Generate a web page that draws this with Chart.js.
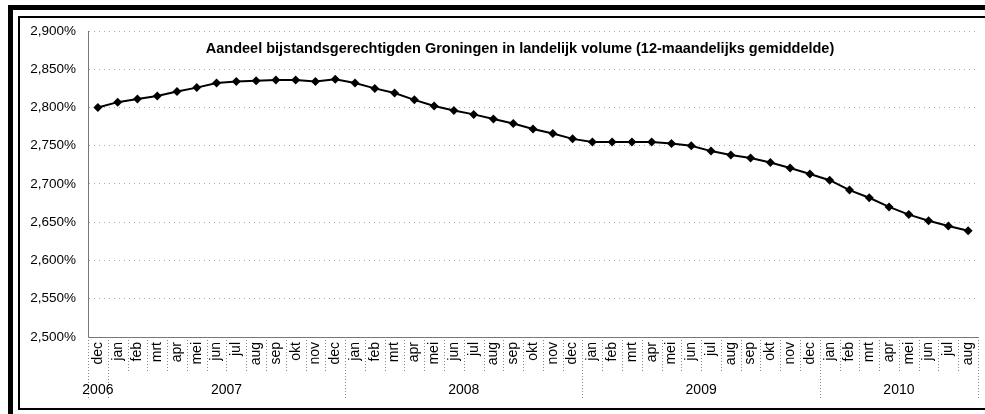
<!DOCTYPE html>
<html>
<head>
<meta charset="utf-8">
<script src="https://cdn.jsdelivr.net/npm/chart.js@4/dist/chart.umd.min.js"></script>
<style>
  html, body { margin: 0; padding: 0; background: #fff; overflow: hidden; width: 985px; height: 414px; }
  .outer { position: absolute; left: 8px; top: 5px; width: 1000px; height: 420px; border-top: 5px solid #000; border-left: 5px solid #000; }
  .inner { position: absolute; left: 18px; top: 16px; width: 1000px; height: 390px; border-top: 2px solid #000; border-left: 2px solid #000; border-bottom: 2px solid #000; }
  canvas { position: absolute; left: 0; top: 0; }
</style>
</head>
<body>
<div class="outer"></div>
<div class="inner"></div>
<canvas id="chart" width="990" height="414" style="width:990px;height:414px"></canvas>
<script>
// maanden (categorieën) en het bijbehorende jaar
const months = ['dec',
  'jan', 'feb', 'mrt', 'apr', 'mei', 'jun', 'jul', 'aug', 'sep', 'okt', 'nov', 'dec',
  'jan', 'feb', 'mrt', 'apr', 'mei', 'jun', 'jul', 'aug', 'sep', 'okt', 'nov', 'dec',
  'jan', 'feb', 'mrt', 'apr', 'mei', 'jun', 'jul', 'aug', 'sep', 'okt', 'nov', 'dec',
  'jan', 'feb', 'mrt', 'apr', 'mei', 'jun', 'jul', 'aug'];
const years = ['2006',
  '2007', '2007', '2007', '2007', '2007', '2007', '2007', '2007', '2007', '2007', '2007', '2007',
  '2008', '2008', '2008', '2008', '2008', '2008', '2008', '2008', '2008', '2008', '2008', '2008',
  '2009', '2009', '2009', '2009', '2009', '2009', '2009', '2009', '2009', '2009', '2009', '2009',
  '2010', '2010', '2010', '2010', '2010', '2010', '2010', '2010'];

// aandeel in procenten
const aandeel = [2.800,
  2.807, 2.811, 2.815, 2.821, 2.826, 2.832, 2.834, 2.835, 2.836, 2.836, 2.834, 2.837,
  2.832, 2.825, 2.819, 2.810, 2.802, 2.796, 2.791, 2.785, 2.779, 2.772, 2.766, 2.759,
  2.755, 2.755, 2.755, 2.755, 2.753, 2.750, 2.743, 2.738, 2.734, 2.728, 2.721, 2.713,
  2.705, 2.692, 2.682, 2.670, 2.660, 2.652, 2.645, 2.639];

const yTicks = [2.5, 2.55, 2.6, 2.65, 2.7, 2.75, 2.8, 2.85, 2.9];

const title = 'Aandeel bijstandsgerechtigden Groningen in landelijk volume (12-maandelijks gemiddelde)';
const fontFamily = '"Liberation Sans", Arial, Helvetica, sans-serif';

// jaar-labels en scheidingslijnen onder de maanden
const axisDecor = {
  id: 'axisDecor',
  afterDraw(chart) {
    const ctx = chart.ctx;
    const x = chart.scales.x;
    const bottom = chart.chartArea.bottom;
    const w = x.getPixelForValue(1) - x.getPixelForValue(0);
    ctx.save();
    ctx.strokeStyle = '#888';
    ctx.lineWidth = 1;
    ctx.setLineDash([1, 2]);
    for (let i = 0; i <= months.length; i++) {
      const px = Math.round(x.getPixelForValue(Math.min(i, months.length - 1)) + (i < months.length ? -w / 2 : w / 2)) + 0.5;
      const newYear = i === 0 || i === months.length || years[i] !== years[i - 1];
      ctx.beginPath();
      ctx.moveTo(px, bottom);
      ctx.lineTo(px, newYear ? 400 : 373);
      ctx.stroke();
    }
    ctx.setLineDash([]);
    ctx.fillStyle = '#000';
    ctx.font = '14px ' + fontFamily;
    ctx.textAlign = 'center';
    ctx.textBaseline = 'middle';
    let start = 0;
    for (let i = 1; i <= years.length; i++) {
      if (i === years.length || years[i] !== years[start]) {
        const cx = (x.getPixelForValue(start) + x.getPixelForValue(i - 1)) / 2;
        ctx.fillText(years[start], cx, 390);
        start = i;
      }
    }
    ctx.font = 'bold 14.5px ' + fontFamily;
    ctx.fillText(title, 520, 49);
    ctx.restore();
  }
};

new Chart(document.getElementById('chart'), {
  type: 'line',
  data: {
    labels: months,
    datasets: [{
      data: aandeel,
      borderColor: '#000',
      backgroundColor: '#000',
      borderWidth: 2,
      pointStyle: 'rectRot',
      pointRadius: 4.5,
      pointBorderWidth: 0,
      tension: 0
    }]
  },
  options: {
    responsive: false,
    animation: false,
    layout: { padding: { top: 31, right: 2, left: 0, bottom: 0 } },
    plugins: { legend: { display: false }, tooltip: { enabled: false }, title: { display: false } },
    scales: {
      x: {
        offset: true,
        afterFit: s => { s.height = 77; },
        grid: { drawOnChartArea: false, drawTicks: false },
        border: { display: true, color: '#777', dash: [1, 2] },
        ticks: {
          autoSkip: false, minRotation: 90, maxRotation: 90, padding: 5,
          color: '#000', font: { family: fontFamily, size: 14 }
        }
      },
      y: {
        min: 2.5, max: 2.9,
        afterFit: s => { s.width = 88; },
        afterBuildTicks: s => { s.ticks = yTicks.map(v => ({ value: v })); },
        grid: { color: '#aaa', drawTicks: false },
        border: { display: true, color: '#777', dash: [1, 4] },
        ticks: {
          padding: 12, color: '#000', font: { family: fontFamily, size: 13.5 },
          callback: v => v.toFixed(3).replace('.', ',') + '%'
        }
      }
    }
  },
  plugins: [axisDecor]
});
</script>
</body>
</html>
